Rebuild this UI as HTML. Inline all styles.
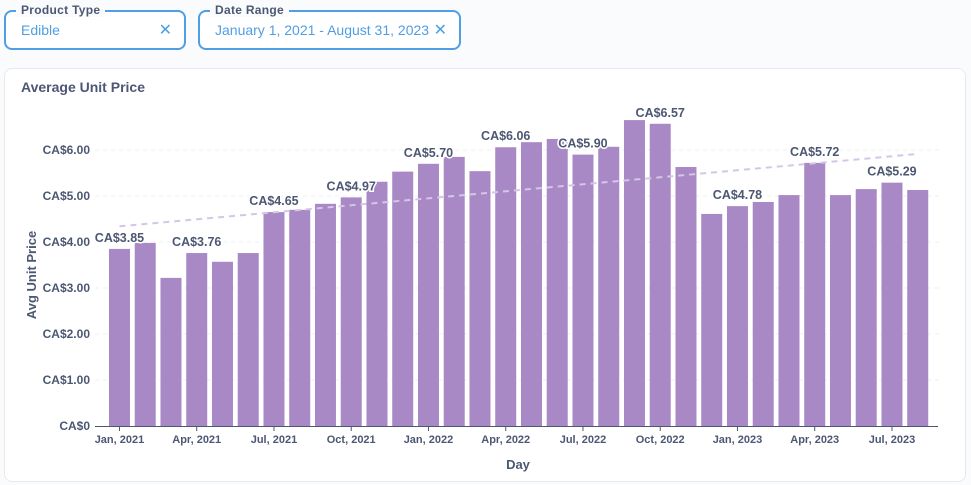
<!DOCTYPE html>
<html><head><meta charset="utf-8">
<style>
body{margin:0;width:971px;height:485px;background:#f9fbfc;font-family:"Liberation Sans",sans-serif;position:relative;overflow:hidden}
.filter{position:absolute;top:10px;border:2px solid #509ee3;border-radius:8px;box-sizing:border-box;height:40px;background:#fff}
.filter .lbl{position:absolute;top:-9px;left:10px;background:#f9fbfc;padding:0 5px;font-size:12px;color:#4c5773;font-weight:bold;letter-spacing:.3px}
.filter .val{position:absolute;left:15px;top:10px;font-size:14px;color:#509ee3}
.filter .x{position:absolute;right:12px;top:8px;font-size:16px;color:#509ee3}
.card{position:absolute;left:4px;top:68px;width:962px;height:414px;background:#fff;border:1px solid #e6eaee;border-radius:8px;box-sizing:border-box}
.title{position:absolute;left:16px;top:10px;font-size:14px;font-weight:bold;color:#4c5773}
svg{position:absolute;left:0;top:0}
</style></head><body>
<div class="filter" style="left:4px;width:182px">
<span class="lbl">Product Type</span>
<span class="val">Edible</span>
<span class="x">✕</span></div>
<div class="filter" style="left:198px;width:263px">
<span class="lbl">Date Range</span>
<span class="val">January 1, 2021 - August 31, 2023</span>
<span class="x">✕</span></div>
<div class="card"><div class="title">Average Unit Price</div></div>
<svg id="chart" width="971" height="485"></svg>
<script>
const months=["Jan, 2021","Feb, 2021","Mar, 2021","Apr, 2021","May, 2021","Jun, 2021","Jul, 2021","Aug, 2021","Sep, 2021","Oct, 2021","Nov, 2021","Dec, 2021","Jan, 2022","Feb, 2022","Mar, 2022","Apr, 2022","May, 2022","Jun, 2022","Jul, 2022","Aug, 2022","Sep, 2022","Oct, 2022","Nov, 2022","Dec, 2022","Jan, 2023","Feb, 2023","Mar, 2023","Apr, 2023","May, 2023","Jun, 2023","Jul, 2023","Aug, 2023"];
const values=[3.85,3.98,3.22,3.76,3.57,3.76,4.65,4.70,4.83,4.97,5.31,5.53,5.70,5.85,5.54,6.06,6.17,6.24,5.90,6.07,6.65,6.57,5.63,4.61,4.78,4.87,5.02,5.72,5.02,5.15,5.29,5.13];
const yTicks=[0,1,2,3,4,5,6];
const xTickIdx=[0,3,6,9,12,15,18,21,24,27,30];
const labelIdx=[0,3,6,9,12,15,18,21,24,27,30];
const NS="http://www.w3.org/2000/svg",svg=document.getElementById("chart");
const X0=106.6,X1=930.6,Y0=426,PPU=46,step=(X1-X0)/values.length,bw=21;
const y=v=>Y0-v*PPU, xc=i=>X0+step*(i+0.5);
function mk(t,a,txt){const e=document.createElementNS(NS,t);for(const k in a)e.setAttribute(k,a[k]);if(txt!==undefined)e.textContent=txt;svg.appendChild(e);return e;}
const F='"Liberation Sans",sans-serif';
yTicks.forEach(v=>{
 if(v>0){const g=mk("line",{x1:95,x2:940,y1:y(v),y2:y(v),stroke:"#eceff2","stroke-dasharray":"4,4"});
 
 }
 const t=mk("text",{x:90,y:y(v)+4,"text-anchor":"end","font-size":12,"font-weight":"bold",fill:"#4c5773","font-family":F},"CA$"+(v===0?"0":v.toFixed(2)));
 
 
});
values.forEach((v,i)=>{
 const r=mk("rect",{x:xc(i)-bw/2,y:y(v),width:bw,height:v*PPU,fill:"#a989c5"});
 
 
});
const n=values.length;let sx=0,sy=0,sxy=0,sxx=0;values.forEach((v,i)=>{sx+=i;sy+=v;sxy+=i*v;sxx+=i*i;});
const b=(n*sxy-sx*sy)/(n*sxx-sx*sx),a=(sy-b*sx)/n;
const tl=mk("line",{x1:xc(0),y1:y(a),x2:xc(n-1),y2:y(a+b*(n-1)),stroke:"#d4c6e6","stroke-width":2,"stroke-dasharray":"6,5"});


labelIdx.forEach(i=>{
 const t=mk("text",{x:xc(i),y:y(values[i])-7,"text-anchor":"middle","font-size":12.5,"font-weight":"bold",fill:"#4c5773",stroke:"#fff","stroke-width":3,"paint-order":"stroke","font-family":F},"CA$"+values[i].toFixed(2));
 
 
});
const ax=mk("line",{x1:95,x2:938,y1:Y0+0.5,y2:Y0+0.5,stroke:"#4c5773","stroke-width":1});


xTickIdx.forEach(i=>{
 const tk=mk("line",{x1:xc(i),x2:xc(i),y1:Y0,y2:Y0+5,stroke:"#4c5773"});
 
 
 const t=mk("text",{x:xc(i),y:443,"text-anchor":"middle","font-size":11,"font-weight":"bold",fill:"#4c5773","font-family":F},months[i]);
 
 
});
const xt=mk("text",{x:518,y:469,"text-anchor":"middle","font-size":13,"font-weight":"bold",fill:"#4c5773","font-family":F},"Day");


const yt=mk("text",{x:0,y:0,transform:"translate(36,275) rotate(-90)","text-anchor":"middle","font-size":13,"font-weight":"bold",fill:"#4c5773","font-family":F},"Avg Unit Price");


</script>
</body></html>
